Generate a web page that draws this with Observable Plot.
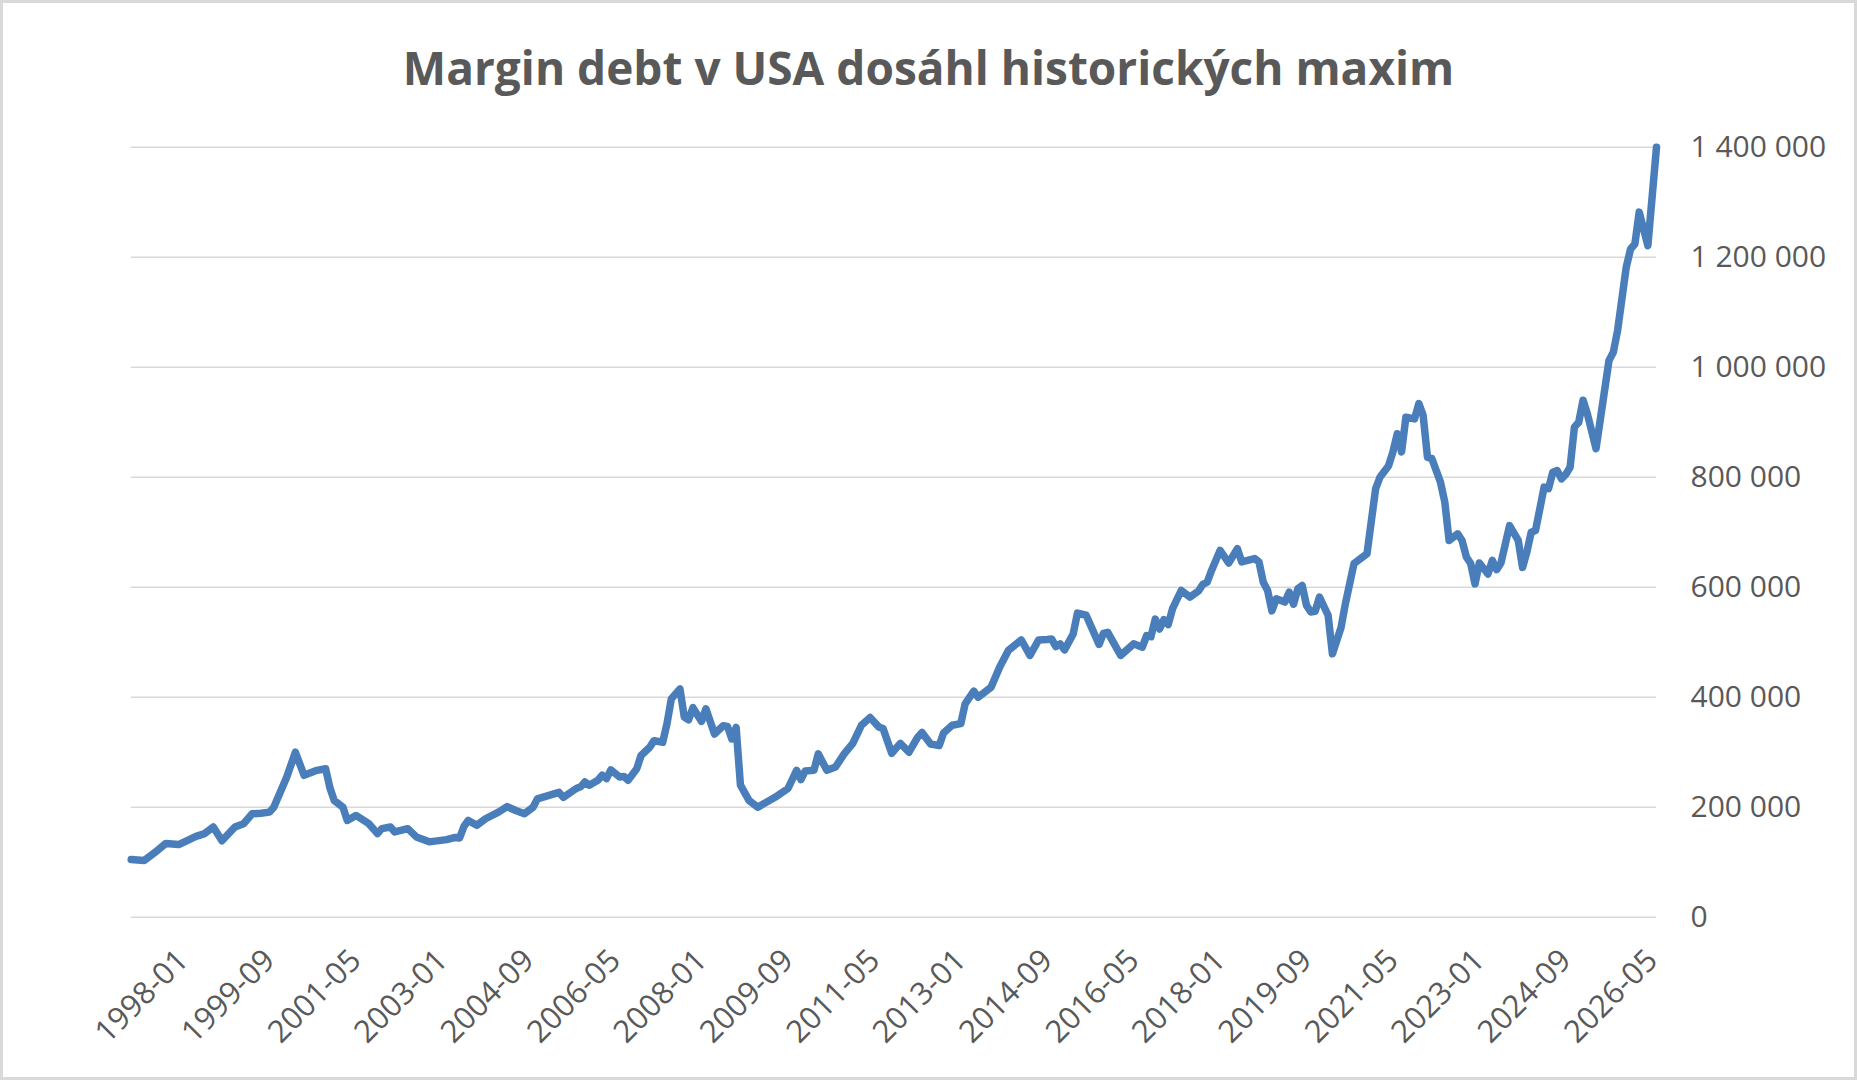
<!DOCTYPE html>
<html>
<head>
<meta charset="utf-8">
<script src="https://cdn.jsdelivr.net/npm/d3@7"></script>
<script src="https://cdn.jsdelivr.net/npm/@observablehq/plot@0.6"></script>
<style>
  html, body { margin: 0; padding: 0; background: #fff; overflow: hidden; }
  #page { position: relative; width: 1857px; height: 1080px; background: #fff; }
  #frame { position: absolute; left: 0; top: 0; width: 1857px; height: 1080px; box-sizing: border-box; border: 3px solid #d9d9d9; pointer-events: none; }
  #title { height: 110px; box-sizing: border-box; padding-top: 44px; line-height: 46px; text-align: center;
           font-family: "Open Sans", sans-serif; font-weight: 700; font-size: 46px; color: #595959; white-space: nowrap; }
  #chart svg { display: block; }
</style>
</head>
<body>
<div id="page">
  <div id="title">Margin debt v USA dosáhl historických maxim</div>
  <div id="chart"></div>
  <div id="frame"></div>
</div>
<script>
// Months (YYYY-MM) at the vertices; category axis starts 1997-01
const months = [
  "1997-01","1997-04","1997-07","1997-09","1997-12","1998-04","1998-06","1998-08","1998-10","1999-01",
  "1999-03","1999-05","1999-07","1999-09","1999-10","2000-01","2000-03","2000-05","2000-08","2000-10",
  "2000-11","2000-12","2001-02","2001-03","2001-05","2001-08","2001-10","2001-11","2002-01","2002-02",
  "2002-05","2002-07","2002-10","2003-02","2003-04","2003-05","2003-06","2003-07","2003-09","2003-11",
  "2004-02","2004-04","2004-06","2004-08","2004-10","2004-11","2005-04","2005-05","2005-08","2005-09",
  "2005-10","2005-11","2006-01","2006-02","2006-03","2006-04","2006-06","2006-07","2006-08","2006-10",
  "2006-11","2007-01","2007-02","2007-04","2007-05","2007-06","2007-08","2007-09","2007-10","2007-11",
  "2008-01","2008-02","2008-04","2008-06","2008-07","2008-08","2008-09","2008-10","2008-12","2009-02",
  "2009-06","2009-09","2009-11","2009-12","2010-01","2010-03","2010-04","2010-06","2010-08","2010-10",
  "2010-12","2011-02","2011-04","2011-06","2011-07","2011-09","2011-11","2012-01","2012-03","2012-04",
  "2012-06","2012-08","2012-09","2012-11","2013-01","2013-02","2013-04","2013-05","2013-08","2013-10",
  "2013-12","2014-03","2014-05","2014-07","2014-09","2014-10","2014-11","2014-12","2015-01","2015-03",
  "2015-04","2015-06","2015-09","2015-10","2015-11","2016-02","2016-05","2016-07","2016-08","2016-09",
  "2016-10","2016-11","2016-12","2017-01","2017-02","2017-04","2017-06","2017-08","2017-09","2017-10",
  "2017-11","2018-01","2018-03","2018-05","2018-06","2018-09","2018-10","2018-11","2018-12","2019-01",
  "2019-02","2019-04","2019-05","2019-06","2019-07","2019-08","2019-09","2019-10","2019-11","2019-12",
  "2020-02","2020-03","2020-05","2020-06","2020-08","2020-11","2021-01","2021-02","2021-04","2021-05",
  "2021-06","2021-07","2021-08","2021-10","2021-11","2021-12","2022-01","2022-02","2022-04","2022-05",
  "2022-06","2022-08","2022-09","2022-10","2022-11","2022-12","2023-01","2023-03","2023-04","2023-05",
  "2023-06","2023-08","2023-10","2023-11","2023-12","2024-01","2024-02","2024-04","2024-05","2024-06",
  "2024-07","2024-08","2024-09","2024-10","2024-11","2024-12","2025-01","2025-02","2025-04","2025-07",
  "2025-08","2025-09","2025-11","2025-12","2026-01","2026-02","2026-04","2026-06"
];
const debt = [
  105000,103000,121000,134000,132000,147000,152000,164000,139000,164000,
  170000,188000,189000,191000,200000,255000,300000,258000,267000,270000,
  235000,212000,200000,176000,185000,170000,152000,161000,164000,155000,
  161000,146000,137000,141000,145000,144000,165000,176000,167000,179000,
  191000,201000,194000,188000,200000,215000,227000,218000,234000,237000,
  246000,240000,249000,258000,252000,268000,255000,256000,249000,270000,
  294000,309000,321000,318000,352000,397000,415000,364000,359000,381000,
  356000,379000,333000,348000,347000,324000,345000,240000,212000,200000,
  218000,234000,267000,250000,266000,267000,297000,267000,273000,297000,
  316000,349000,363000,346000,343000,298000,316000,300000,327000,336000,
  315000,312000,335000,349000,352000,388000,411000,400000,418000,455000,
  485000,504000,476000,504000,505000,506000,492000,497000,486000,515000,
  553000,549000,496000,516000,518000,476000,497000,491000,512000,510000,
  542000,524000,541000,532000,561000,594000,582000,593000,605000,609000,
  630000,667000,644000,670000,646000,652000,646000,609000,594000,557000,
  579000,573000,591000,569000,597000,603000,567000,555000,556000,582000,
  549000,479000,527000,570000,643000,661000,779000,800000,821000,846000,
  879000,846000,909000,906000,934000,912000,836000,834000,791000,755000,
  685000,697000,685000,655000,643000,606000,644000,624000,649000,632000,
  644000,712000,685000,636000,664000,700000,703000,782000,779000,809000,
  812000,797000,805000,818000,891000,900000,940000,915000,852000,1012000,
  1027000,1067000,1182000,1215000,1224000,1282000,1221000,1400000
];
const firstMonth = "1997-01";
const lastMonth = "2026-06";
const tickLabels = ["1998-01","1999-09","2001-05","2003-01","2004-09","2006-05","2008-01","2009-09","2011-05",
                    "2013-01","2014-09","2016-05","2018-01","2019-09","2021-05","2023-01","2024-09","2026-05"];
const yTicks = [0, 200000, 400000, 600000, 800000, 1000000, 1200000, 1400000];

// category position: months since the first category
const idx = s => (+s.slice(0, 4) - 1997) * 12 + (+s.slice(5, 7) - 1);
const label = i => { const y = 1997 + Math.floor(i / 12); const m = i % 12 + 1; return `${y}-${String(m).padStart(2, "0")}`; };

const data = months.map((m, i) => ({ t: idx(m), value: debt[i] }));

const fmt = d => d3.format(",")(d).replace(/,/g, "\u00a0");

const chart = Plot.plot({
  width: 1857,
  height: 970,
  marginTop: 36.7,
  marginBottom: 163.3,
  marginLeft: 130.7,
  marginRight: 201,
  style: { fontFamily: "'Open Sans', sans-serif", fontSize: "30px", color: "#595959", background: "transparent" },
  x: { type: "linear", domain: [idx(firstMonth), idx(lastMonth)], label: null },
  y: { domain: [0, 1400000], label: null },
  marks: [
    Plot.gridY(yTicks, { stroke: "#d9d9d9", strokeOpacity: 1, strokeWidth: 1.6 }),
    Plot.axisY(yTicks, { anchor: "right", tickSize: 0, tickPadding: 34, tickFormat: fmt, fill: "#595959", fontSize: 30, label: null, textAnchor: "start" }),
    Plot.axisX(tickLabels.map(idx), { tickSize: 0, tickPadding: 38, tickRotate: -45, tickFormat: label, fill: "#595959", fontSize: 31, label: null }),
    Plot.line(data, { x: "t", y: "value", stroke: "#4a7ebb", strokeWidth: 7.5, strokeLinejoin: "round", strokeLinecap: "round" })
  ]
});
document.getElementById("chart").appendChild(chart);
</script>
</body>
</html>
